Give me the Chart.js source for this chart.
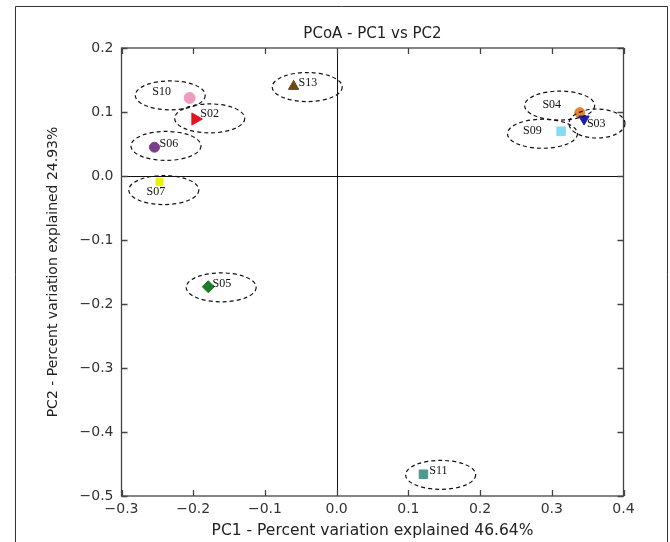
<!DOCTYPE html>
<html>
<head>
<meta charset="utf-8">
<script src="https://cdn.jsdelivr.net/npm/chart.js@4.4.1/dist/chart.umd.min.js"></script>
<style>
  html, body { margin: 0; padding: 0; background: #fff; }
  canvas { display: block; }
</style>
</head>
<body>
<canvas id="pcoa" width="670" height="542"></canvas>
<script>
// sample coordinates
const samples = ['S10', 'S02', 'S06', 'S07', 'S13', 'S04', 'S03', 'S09', 'S05', 'S11'];
const pc1 = [-0.205, -0.197, -0.254, -0.247, -0.060, 0.339, 0.345, 0.313, -0.179, 0.121];
const pc2 = [0.122, 0.089, 0.045, -0.009, 0.140, 0.099, 0.089, 0.070, -0.173, -0.466];

// dashed rings and their labels (data units)
const ringX = [-0.232, -0.177, -0.238, -0.241, -0.041, 0.311, 0.363, 0.287, -0.161, 0.145];
const ringY = [0.126, 0.090, 0.047, -0.022, 0.139, 0.110, 0.082, 0.066, -0.174, -0.467];
const labelX = [-0.244, -0.177, -0.234, -0.252, -0.040, 0.300, 0.362, 0.273, -0.160, 0.142];
const labelY = [0.131, 0.097, 0.050, -0.025, 0.146, 0.111, 0.081, 0.071, -0.168, -0.461];

const xTicks = [-0.3, -0.2, -0.1, 0.0, 0.1, 0.2, 0.3, 0.4];
const yTicks = [-0.5, -0.4, -0.3, -0.2, -0.1, 0.0, 0.1, 0.2];

const chartTitle = 'PCoA - PC1 vs PC2';
const xTitle = 'PC1 - Percent variation explained 46.64%';
const yTitle = 'PC2 - Percent variation explained 24.93%';

// marker styles
const markerColors = ['#ee9bbf', '#e81320', '#7b3c8c', '#eef000', '#6a4a16', '#e8832a', '#1c1cae', '#84dcf4', '#1f7d25', '#4e9a8e'];
const markerShapes = ['circle', 'triangle', 'circle', 'rect', 'triangle', 'circle', 'triangle', 'rect', 'rectRot', 'rect'];
const markerRotation = [0, 90, 0, 0, 0, 0, 180, 0, 0, 0];
const markerRadius = [5.5, 7, 5, 5, 6, 5, 6, 6, 6, 6];
const ringRx = { S03: 28 };

function fmt(v) {
  if (Math.abs(v) < 1e-9) v = 0;
  return v.toFixed(1).replace('-', '\u2212');
}

const plotDecor = {
  id: 'plotDecor',
  beforeDatasetsDraw(chart) {
    const ctx = chart.ctx;
    const a = chart.chartArea;
    const xs = chart.scales.x, ys = chart.scales.y;
    ctx.save();
    // zero lines
    ctx.strokeStyle = '#111';
    ctx.lineWidth = 1;
    const x0 = Math.round(xs.getPixelForValue(0)) + 0.5;
    const y0 = Math.round(ys.getPixelForValue(0)) + 0.5;
    ctx.beginPath();
    ctx.moveTo(x0, a.top); ctx.lineTo(x0, a.bottom);
    ctx.moveTo(a.left, y0); ctx.lineTo(a.right, y0);
    ctx.stroke();
    // box
    ctx.strokeStyle = '#444';
    ctx.lineWidth = 1.3;
    ctx.strokeRect(a.left, a.top, a.right - a.left, a.bottom - a.top);
    // inward ticks on all sides
    ctx.beginPath();
    xTicks.forEach(v => {
      const px = Math.round(xs.getPixelForValue(v)) + 0.5;
      ctx.moveTo(px, a.bottom); ctx.lineTo(px, a.bottom - 6);
      ctx.moveTo(px, a.top); ctx.lineTo(px, a.top + 6);
    });
    yTicks.forEach(v => {
      const py = Math.round(ys.getPixelForValue(v)) + 0.5;
      ctx.moveTo(a.left, py); ctx.lineTo(a.left + 6, py);
      ctx.moveTo(a.right, py); ctx.lineTo(a.right - 6, py);
    });
    ctx.stroke();
    ctx.restore();
  },
  afterDatasetsDraw(chart) {
    const ctx = chart.ctx;
    const xs = chart.scales.x, ys = chart.scales.y;
    ctx.save();
    ctx.strokeStyle = '#111';
    ctx.lineWidth = 1.2;
    ctx.setLineDash([4, 3]);
    samples.forEach((s, i) => {
      const cx = xs.getPixelForValue(ringX[i]);
      const cy = ys.getPixelForValue(ringY[i]);
      ctx.beginPath();
      ctx.ellipse(cx, cy, ringRx[s] || 35, 14.5, 0, 0, Math.PI * 2);
      ctx.stroke();
    });
    ctx.setLineDash([]);
    ctx.fillStyle = '#111';
    ctx.font = '12px "Liberation Serif", serif';
    ctx.textAlign = 'center';
    ctx.textBaseline = 'middle';
    samples.forEach((s, i) => {
      ctx.fillText(s, xs.getPixelForValue(labelX[i]), ys.getPixelForValue(labelY[i]));
    });
    ctx.restore();
  },
  afterDraw(chart) {
    const ctx = chart.ctx;
    const a = chart.chartArea;
    ctx.save();
    // outer frame
    ctx.strokeStyle = '#333';
    ctx.lineWidth = 1;
    ctx.beginPath();
    ctx.moveTo(15.5, 560); ctx.lineTo(15.5, 6.5); ctx.lineTo(667.5, 6.5); ctx.lineTo(667.5, 560);
    ctx.stroke();
    // title
    ctx.fillStyle = '#222';
    ctx.font = '15px "DejaVu Sans"';
    ctx.textAlign = 'center';
    ctx.textBaseline = 'middle';
    ctx.fillText(chartTitle, (a.left + a.right) / 2, 34);
    // y title
    ctx.font = '14px "DejaVu Sans"';
    ctx.translate(53, (a.top + a.bottom) / 2);
    ctx.rotate(-Math.PI / 2);
    ctx.fillText(yTitle, 0, 0);
    ctx.restore();
  }
};

new Chart(document.getElementById('pcoa'), {
  type: 'scatter',
  data: {
    datasets: [{
      label: 'samples',
      data: samples.map((s, i) => ({ x: pc1[i], y: pc2[i] })),
      pointStyle: markerShapes,
      rotation: markerRotation,
      pointRadius: markerRadius,
      backgroundColor: markerColors,
      borderColor: markerColors,
      borderWidth: 1
    }]
  },
  options: {
    responsive: false,
    animation: false,
    devicePixelRatio: 1,
    layout: { padding: { left: 35, right: 46.5, top: 48, bottom: 0 } },
    plugins: {
      legend: { display: false },
      tooltip: { enabled: false },
      title: { display: false }
    },
    scales: {
      x: {
        type: 'linear',
        min: -0.3,
        max: 0.4,
        afterBuildTicks: axis => { axis.ticks = xTicks.map(v => ({ value: v })); },
        afterFit: axis => { axis.height = 46; },
        grid: { display: false, drawTicks: false },
        border: { display: false },
        ticks: {
          padding: 5,
          color: '#333',
          font: { family: 'DejaVu Sans', size: 14 },
          callback: v => fmt(v),
          maxRotation: 0
        },
        title: {
          display: true,
          text: xTitle,
          color: '#222',
          font: { family: 'DejaVu Sans', size: 15.5 },
          padding: { top: 0, bottom: 2 }
        }
      },
      y: {
        type: 'linear',
        min: -0.5,
        max: 0.2,
        afterBuildTicks: axis => { axis.ticks = yTicks.map(v => ({ value: v })); },
        afterFit: axis => { axis.width = 86.5; },
        grid: { display: false, drawTicks: false },
        border: { display: false },
        ticks: {
          padding: 8,
          color: '#333',
          font: { family: 'DejaVu Sans', size: 14 },
          callback: v => fmt(v)
        }
      }
    }
  },
  plugins: [plotDecor]
});
</script>
</body>
</html>
